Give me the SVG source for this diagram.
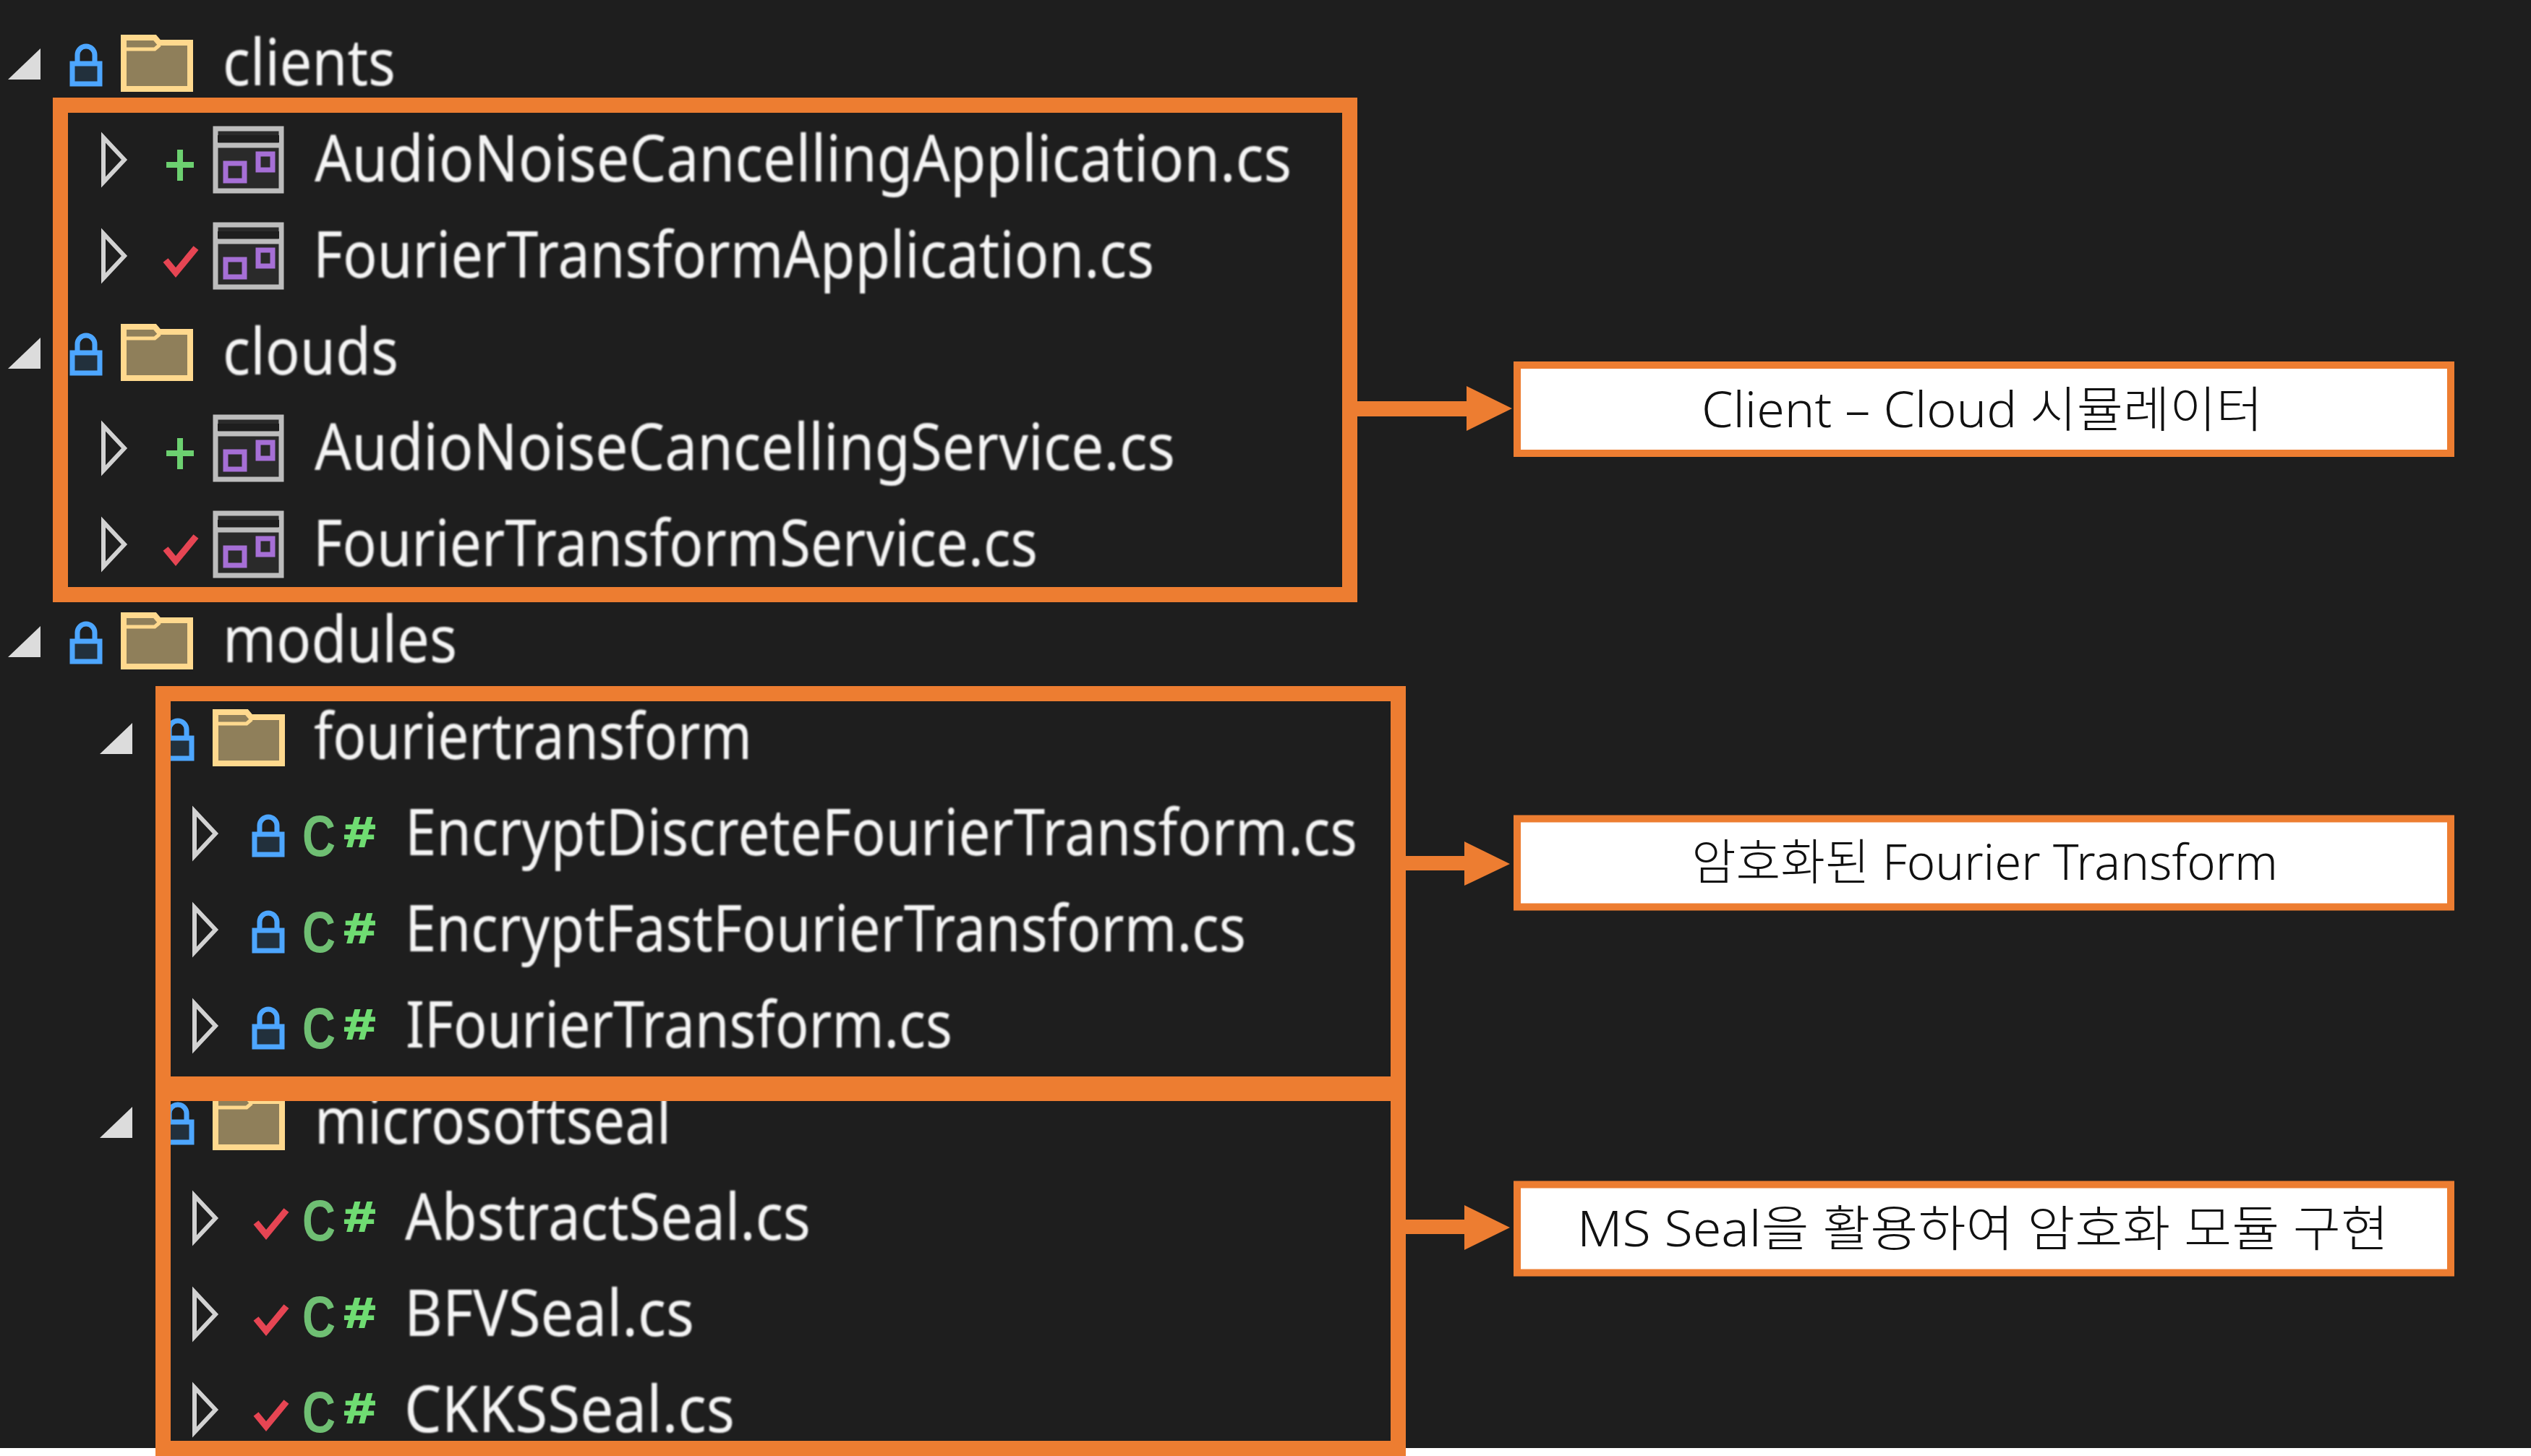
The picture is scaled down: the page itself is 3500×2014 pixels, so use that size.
<svg xmlns="http://www.w3.org/2000/svg" width="3500" height="2014" viewBox="0 0 3500 2014">
<style>
.f{font-family:"Noto Sans","Liberation Sans",sans-serif;font-size:90px;fill:#f4f4f4;filter:url(#soft)}
.l{font-family:"Noto Sans","Noto Sans CJK KR",sans-serif;font-size:68px;font-weight:300;fill:#111}
.c{font-family:"Liberation Sans",sans-serif;font-size:80px;font-weight:bold;fill:#6fbf73}
.h{font-family:"Liberation Mono",monospace;font-size:62px;font-weight:bold;fill:#6fdc72;stroke:#6fdc72;stroke-width:2}
.box{fill:none;stroke:#ed7d31;stroke-width:21}
.call{fill:#fff;stroke:#ed7d31;stroke-width:10}
.arr{fill:#ed7d31}
</style>
<defs>
<filter id="soft" x="-5%" y="-20%" width="110%" height="140%"><feGaussianBlur stdDeviation="1.2"/></filter>
<path id="open" d="M11,110 L56,67 L56,110 Z" fill="#dcdcdc"/>
<path id="exp" d="M143,190 L172,221 L143,252 Z" fill="none" stroke="#d2d2d2" stroke-width="6" transform="translate(0,-252)"/>
<g id="lock"><path d="M107,88 V76 a12,12 0 0 1 24,0 V88" fill="none" stroke="#4da6ff" stroke-width="7" transform="translate(0,-118)"/><rect x="100" y="88" width="38" height="28" fill="#22303c" stroke="#4da6ff" stroke-width="7" transform="translate(0,-118)"/></g>
<g id="folder" transform="translate(0,-118)"><path d="M171,52 H214 L220,59 H263 V123 H171 Z" fill="#8f7f5a" stroke="#ffd98e" stroke-width="8"/><path d="M171,68 H214 L221,62" fill="none" stroke="#ffd98e" stroke-width="5"/></g>
<g id="app" transform="translate(0,-252)"><rect x="298" y="178" width="91" height="86" fill="#2a2a2a" stroke="#bdbdbd" stroke-width="7"/><rect x="301" y="187" width="85" height="10" fill="#1e1e1e"/><path d="M298,201 H389" stroke="#bdbdbd" stroke-width="7"/><rect x="312" y="226" width="26" height="24" fill="none" stroke="#a66fd6" stroke-width="7"/><rect x="357" y="213" width="20" height="22" fill="none" stroke="#a66fd6" stroke-width="7"/></g>
<path id="plus" d="M249,-45 V-2 M230,-24 H268" fill="none" stroke="#6cd070" stroke-width="8"/>
<path id="check" d="M229,-25 L243,-8 L271,-42" fill="none" stroke="#e64553" stroke-width="9"/>
</defs>
<rect width="3500" height="2014" fill="#1e1e1e"/>
<rect y="2003" width="3500" height="11" fill="#fff"/>

<g id="tree-clients">
<use href="#open" y="0"/><use href="#lock" y="118"/><use href="#folder" y="118"/>
<text class="f" x="308" y="118" textLength="239" lengthAdjust="spacingAndGlyphs">clients</text>
</g>
<g id="row-audio-app">
<use href="#exp" y="252"/><use href="#plus" y="252"/><use href="#app" y="252"/>
<text class="f" x="435" y="251" textLength="1351" lengthAdjust="spacingAndGlyphs">AudioNoiseCancellingApplication.cs</text>
</g>
<g id="row-fourier-app">
<use href="#exp" y="385"/><use href="#check" y="385"/><use href="#app" y="385"/>
<text class="f" x="433" y="384" textLength="1163" lengthAdjust="spacingAndGlyphs">FourierTransformApplication.cs</text>
</g>
<g id="tree-clouds">
<use href="#open" y="400"/><use href="#lock" y="518"/><use href="#folder" y="518"/>
<text class="f" x="308" y="518" textLength="243" lengthAdjust="spacingAndGlyphs">clouds</text>
</g>
<g id="row-audio-svc">
<use href="#exp" y="651"/><use href="#plus" y="651"/><use href="#app" y="651"/>
<text class="f" x="435" y="650" textLength="1190" lengthAdjust="spacingAndGlyphs">AudioNoiseCancellingService.cs</text>
</g>
<g id="row-fourier-svc">
<use href="#exp" y="784"/><use href="#check" y="784"/><use href="#app" y="784"/>
<text class="f" x="433" y="783" textLength="1002" lengthAdjust="spacingAndGlyphs">FourierTransformService.cs</text>
</g>
<g id="tree-modules">
<use href="#open" y="799"/><use href="#lock" y="917"/><use href="#folder" y="917"/>
<text class="f" x="308" y="916" textLength="324" lengthAdjust="spacingAndGlyphs">modules</text>
</g>
<g id="tree-fouriertransform">
<use href="#open" x="127" y="933"/><use href="#lock" x="127" y="1051"/><use href="#folder" x="127" y="1051"/>
<text class="f" x="434" y="1050" textLength="606" lengthAdjust="spacingAndGlyphs">fouriertransform</text>
</g>
<g id="row-edft">
<use href="#exp" x="126" y="1184"/><use href="#lock" x="252" y="1184"/>
<text class="c" x="418" y="1184" textLength="46" lengthAdjust="spacingAndGlyphs">C</text><text class="h" x="475" y="1171" textLength="45" lengthAdjust="spacingAndGlyphs">#</text>
<text class="f" x="560" y="1183" textLength="1317" lengthAdjust="spacingAndGlyphs">EncryptDiscreteFourierTransform.cs</text>
</g>
<g id="row-efft">
<use href="#exp" x="126" y="1317"/><use href="#lock" x="252" y="1317"/>
<text class="c" x="418" y="1317" textLength="46" lengthAdjust="spacingAndGlyphs">C</text><text class="h" x="475" y="1304" textLength="45" lengthAdjust="spacingAndGlyphs">#</text>
<text class="f" x="560" y="1316" textLength="1163" lengthAdjust="spacingAndGlyphs">EncryptFastFourierTransform.cs</text>
</g>
<g id="row-ifft">
<use href="#exp" x="126" y="1450"/><use href="#lock" x="252" y="1450"/>
<text class="c" x="418" y="1450" textLength="46" lengthAdjust="spacingAndGlyphs">C</text><text class="h" x="475" y="1437" textLength="45" lengthAdjust="spacingAndGlyphs">#</text>
<text class="f" x="561" y="1449" textLength="756" lengthAdjust="spacingAndGlyphs">IFourierTransform.cs</text>
</g>
<g id="tree-microsoftseal">
<use href="#open" x="127" y="1464"/><use href="#lock" x="127" y="1582"/><use href="#folder" x="127" y="1582"/>
<text class="f" x="435" y="1582" textLength="493" lengthAdjust="spacingAndGlyphs">microsoftseal</text>
</g>
<g id="row-abstract">
<use href="#exp" x="126" y="1716"/><use href="#check" x="125" y="1716"/>
<text class="c" x="418" y="1716" textLength="46" lengthAdjust="spacingAndGlyphs">C</text><text class="h" x="475" y="1703" textLength="45" lengthAdjust="spacingAndGlyphs">#</text>
<text class="f" x="560" y="1715" textLength="561" lengthAdjust="spacingAndGlyphs">AbstractSeal.cs</text>
</g>
<g id="row-bfv">
<use href="#exp" x="126" y="1849"/><use href="#check" x="125" y="1849"/>
<text class="c" x="418" y="1849" textLength="46" lengthAdjust="spacingAndGlyphs">C</text><text class="h" x="475" y="1836" textLength="45" lengthAdjust="spacingAndGlyphs">#</text>
<text class="f" x="559" y="1848" textLength="401" lengthAdjust="spacingAndGlyphs">BFVSeal.cs</text>
</g>
<g id="row-ckks">
<use href="#exp" x="126" y="1981"/><use href="#check" x="125" y="1981"/>
<text class="c" x="418" y="1981" textLength="46" lengthAdjust="spacingAndGlyphs">C</text><text class="h" x="475" y="1968" textLength="45" lengthAdjust="spacingAndGlyphs">#</text>
<text class="f" x="559" y="1981" textLength="457" lengthAdjust="spacingAndGlyphs">CKKSSeal.cs</text>
</g>

<g id="highlight-clouds"><rect class="box" x="83.500" y="145.500" width="1783" height="677"/></g>
<g id="highlight-fourier"><rect class="box" x="225.500" y="959.500" width="1708" height="540"/></g>
<g id="highlight-seal"><rect class="box" x="225.500" y="1512.500" width="1708" height="491"/></g>

<g id="connectors">
<path class="arr" d="M1877,555 H2028 V534 L2091,565 L2028,596 V576 H1877 Z"/>
<path class="arr" d="M1944,1184 H2025 V1164 L2088,1195 L2025,1225 V1204 H1944 Z"/>
<path class="arr" d="M1944,1687 H2025 V1667 L2088,1698 L2025,1729 V1707 H1944 Z"/>
</g>

<g id="label-client-cloud"><rect class="call" x="2098" y="505" width="1291" height="122"/>
<text class="l" x="2353" y="591" textLength="776" lengthAdjust="spacingAndGlyphs">Client – Cloud 시뮬레이터</text></g>
<g id="label-encrypted-ft"><rect class="call" x="2098" y="1132.500" width="1291" height="122"/>
<text class="l" x="2339" y="1217" textLength="811" lengthAdjust="spacingAndGlyphs">암호화된 Fourier Transform</text></g>
<g id="label-ms-seal"><rect class="call" x="2098" y="1638.500" width="1291" height="122"/>
<text class="l" x="2181" y="1724" textLength="1122" lengthAdjust="spacingAndGlyphs">MS Seal을 활용하여 암호화 모듈 구현</text></g>
</svg>
